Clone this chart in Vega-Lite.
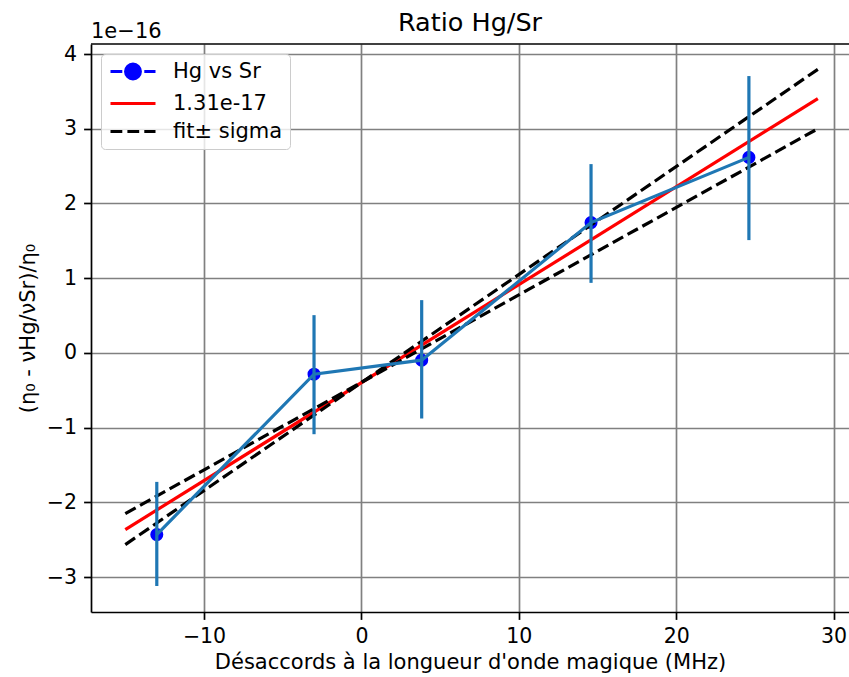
{
  "$schema": "https://vega.github.io/schema/vega-lite/v6.json",
  "width": 758,
  "height": 568,
  "autosize": "none",
  "padding": {"left": 91, "top": 44, "right": 0, "bottom": 65},
  "background": "white",
  "config": {
    "font": "DejaVu Sans",
    "view": {"stroke": null},
    "axis": {
      "domainColor": "black",
      "domainWidth": 1.7,
      "tickColor": "black",
      "tickWidth": 1.7,
      "tickSize": 7.4,
      "labelFont": "DejaVu Sans",
      "labelFontSize": 20.5,
      "labelColor": "black",
      "labelPadding": 7,
      "labelFlush": false,
      "labelOverlap": false,
      "titleFont": "DejaVu Sans",
      "titleFontSize": 21,
      "titleFontWeight": "normal",
      "titleColor": "black",
      "grid": true,
      "gridColor": "#808080",
      "gridWidth": 1.7,
      "gridOpacity": 1
    },
    "legend": {
      "title": null,
      "orient": "top-left",
      "offset": 10,
      "padding": 7,
      "fillColor": "rgba(255,255,255,0.8)",
      "strokeColor": "#cccccc",
      "cornerRadius": 4,
      "labelFont": "DejaVu Sans",
      "labelFontSize": 21,
      "labelColor": "black",
      "symbolSize": 256,
      "labelOffset": 44,
      "rowPadding": 6,
      "symbolStrokeWidth": 3.2,
      "symbolOpacity": 1
    }
  },
  "title": {
    "text": "Ratio Hg/Sr",
    "font": "DejaVu Sans",
    "fontSize": 25.5,
    "fontWeight": "normal",
    "color": "black",
    "anchor": "middle",
    "offset": -16
  },
  "datasets": {
    "points": [
      {"x": -13.0, "y": -2.43, "lo": -3.118, "hi": -1.725},
      {"x": -3.01, "y": -0.284, "lo": -1.087, "hi": 0.506},
      {"x": 3.83, "y": -0.096, "lo": -0.877, "hi": 0.707},
      {"x": 14.59, "y": 1.745, "lo": 0.938, "hi": 2.527},
      {"x": 24.62, "y": 2.617, "lo": 1.51, "hi": 3.705}
    ],
    "fit": [
      {"line": "fit", "x": -15, "y": -2.363},
      {"line": "fit", "x": 29, "y": 3.402}
    ],
    "sigma": [
      {"line": "upper", "x": -15, "y": -2.564},
      {"line": "upper", "x": 29, "y": 3.795},
      {"line": "lower", "x": -15, "y": -2.149},
      {"line": "lower", "x": 29, "y": 3.0}
    ],
    "legendEntries": [
      {"series": "Hg vs Sr"},
      {"series": "1.31e-17"},
      {"series": "fit± sigma"}
    ],
    "offsetText": [{"label": "1e−16"}]
  },
  "layer": [
    {
      "data": {"name": "points"},
      "mark": {"type": "circle", "size": 170, "opacity": 1, "color": "blue"},
      "encoding": {
        "x": {"field": "x", "type": "quantitative", "scale": {"domain": [-17.18, 30.98], "nice": false, "zero": false}, "axis": {"values": [-10, 0, 10, 20, 30], "format": ".0f", "title": "Désaccords à la longueur d'onde magique (MHz)", "titlePadding": 5}},
        "y": {"field": "y", "type": "quantitative", "scale": {"domain": [-3.466, 4.134], "nice": false, "zero": false}, "axis": {"values": [-3, -2, -1, 0, 1, 2, 3, 4], "format": ".0f", "title": "(η₀  - νHg/νSr)/η₀", "titlePadding": 8}}
      }
    },
    {
      "data": {"name": "fit"},
      "mark": {"type": "line", "strokeWidth": 3.2, "color": "red"},
      "encoding": {
        "x": {"field": "x", "type": "quantitative", "scale": {"domain": [-17.18, 30.98], "nice": false, "zero": false}},
        "y": {"field": "y", "type": "quantitative", "scale": {"domain": [-3.466, 4.134], "nice": false, "zero": false}},
        "detail": {"field": "line", "type": "nominal"}
      }
    },
    {
      "data": {"name": "sigma"},
      "mark": {"type": "line", "strokeWidth": 3.2, "strokeDash": [11.8, 5.1], "color": "black"},
      "encoding": {
        "x": {"field": "x", "type": "quantitative", "scale": {"domain": [-17.18, 30.98], "nice": false, "zero": false}},
        "y": {"field": "y", "type": "quantitative", "scale": {"domain": [-3.466, 4.134], "nice": false, "zero": false}},
        "detail": {"field": "line", "type": "nominal"}
      }
    },
    {
      "data": {"name": "points"},
      "mark": {"type": "rule", "color": "#1f77b4", "strokeWidth": 3.2},
      "encoding": {
        "x": {"field": "x", "type": "quantitative", "scale": {"domain": [-17.18, 30.98], "nice": false, "zero": false}},
        "y": {"field": "lo", "type": "quantitative", "scale": {"domain": [-3.466, 4.134], "nice": false, "zero": false}},
        "y2": {"field": "hi"}
      }
    },
    {
      "data": {"name": "points"},
      "mark": {"type": "line", "color": "#1f77b4", "strokeWidth": 3.2},
      "encoding": {
        "x": {"field": "x", "type": "quantitative", "scale": {"domain": [-17.18, 30.98], "nice": false, "zero": false}},
        "y": {"field": "y", "type": "quantitative", "scale": {"domain": [-3.466, 4.134], "nice": false, "zero": false}}
      }
    },
    {
      "data": {"name": "legendEntries"},
      "mark": {"type": "point", "opacity": 0, "filled": false, "strokeWidth": 3.2},
      "encoding": {
        "shape": {
          "field": "series", "type": "nominal",
          "scale": {"domain": ["Hg vs Sr", "1.31e-17", "fit± sigma"], "range": [
            "M-1,0H0.475M3.225,0H4.625M2.73,0A0.92,0.92,0,1,1,0.89,0A0.92,0.92,0,1,1,2.73,0Z",
            "M-1,0H4.625",
            "M-1,0H0.475M1.1125,0H2.5875M3.225,0H4.625"
          ]}
        },
        "fill": {
          "field": "series", "type": "nominal",
          "scale": {"domain": ["Hg vs Sr", "1.31e-17", "fit± sigma"], "range": ["blue", "red", "black"]}
        },
        "stroke": {
          "field": "series", "type": "nominal",
          "scale": {"domain": ["Hg vs Sr", "1.31e-17", "fit± sigma"], "range": ["blue", "red", "black"]}
        }
      }
    },
    {
      "data": {"name": "offsetText"},
      "mark": {"type": "rule", "color": "black", "strokeWidth": 1.7},
      "encoding": {
        "y": {"datum": 4.134, "type": "quantitative", "scale": {"domain": [-3.466, 4.134], "nice": false, "zero": false}}
      }
    },
    {
      "data": {"name": "offsetText"},
      "mark": {"type": "text", "align": "left", "baseline": "alphabetic", "dy": -6.3, "font": "DejaVu Sans", "fontSize": 21, "color": "black"},
      "encoding": {
        "x": {"datum": -17.18, "type": "quantitative", "scale": {"domain": [-17.18, 30.98], "nice": false, "zero": false}},
        "y": {"datum": 4.134, "type": "quantitative", "scale": {"domain": [-3.466, 4.134], "nice": false, "zero": false}},
        "text": {"field": "label"}
      }
    }
  ]
}
